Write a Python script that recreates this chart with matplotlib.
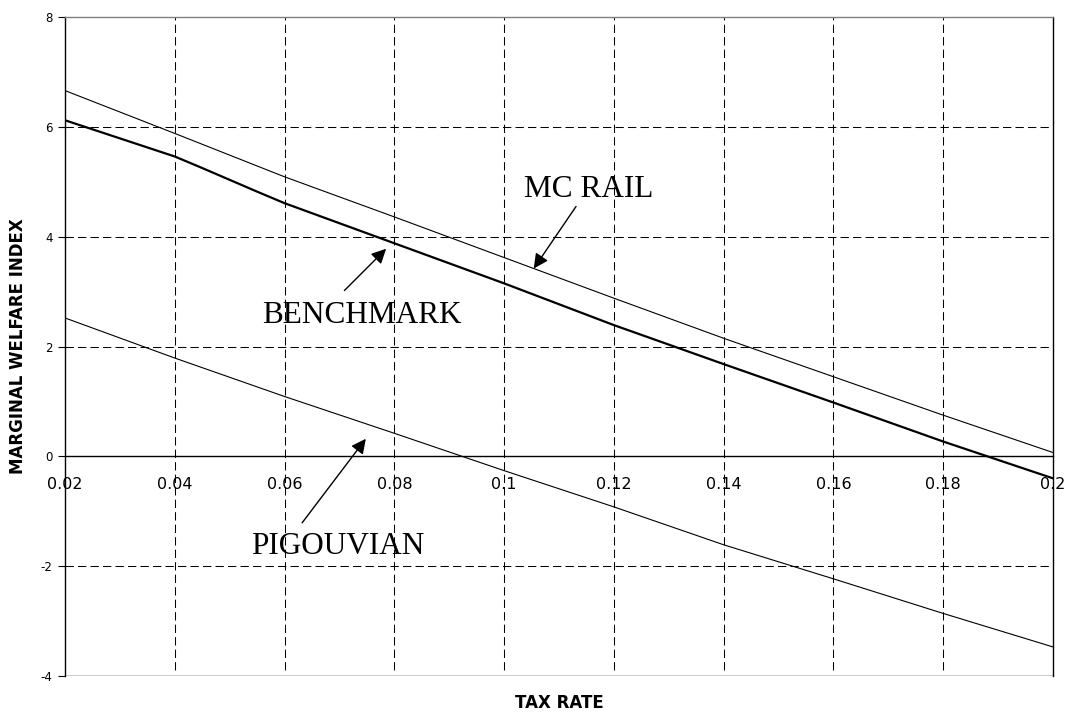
import matplotlib
matplotlib.use("Agg")
import matplotlib.pyplot as plt

# data
tax_rate = [0.02, 0.04, 0.06, 0.08, 0.10, 0.12, 0.14, 0.16, 0.18, 0.20]
mc_rail = [6.66, 5.88, 5.09, 4.36, 3.62, 2.88, 2.15, 1.45, 0.75, 0.07]
pigouvian = [2.52, 1.79, 1.09, 0.42, -0.26, -0.92, -1.61, -2.23, -2.86, -3.47]

bench_rate = [0.02, 0.04, 0.045, 0.055, 0.06, 0.08, 0.10, 0.12, 0.14, 0.16, 0.18, 0.20]
benchmark = [6.12, 5.46, 5.25, 4.82, 4.61, 3.88, 3.15, 2.39, 1.68, 0.98, 0.27, -0.40]

x_ticks = [0.02, 0.04, 0.06, 0.08, 0.1, 0.12, 0.14, 0.16, 0.18, 0.2]
x_labels = ["0.02", "0.04", "0.06", "0.08", "0.1", "0.12", "0.14", "0.16", "0.18", "0.2"]
y_ticks = [-4, -2, 0, 2, 4, 6, 8]

fig = plt.figure(figsize=(10.75, 7.15), dpi=100)
ax = fig.add_axes([0.0605, 0.0545, 0.919, 0.9217])

ax.set_xlim(0.02, 0.2)
ax.set_ylim(-4, 8)

# dashed grid
for gx in x_ticks[1:-1]:
    ax.axvline(gx, ymin=0.009, color="black", lw=0.75, ls=(0, (8, 4)), zorder=1)
for gy in [-2, 2, 4, 6]:
    ax.axhline(gy, color="black", lw=0.75, ls=(0, (8, 4)), zorder=1)

# series
ax.plot(tax_rate, mc_rail, color="black", lw=0.8, zorder=3)
ax.plot(bench_rate, benchmark, color="black", lw=1.6, zorder=3)
ax.plot(tax_rate, pigouvian, color="black", lw=0.8, zorder=3)

# x axis sits at zero, the frame bottom is drawn separately
ax.spines["bottom"].set_position(("data", 0))
ax.axhline(-4, color="black", lw=1.0, zorder=2)
for side in ["left", "right", "bottom"]:
    ax.spines[side].set_color("black")
    ax.spines[side].set_linewidth(1.0)
ax.spines["top"].set_color("#808080")
ax.spines["top"].set_linewidth(1.0)

ax.set_xticks(x_ticks)
ax.set_xticklabels(x_labels, fontfamily="DejaVu Sans", fontsize=11.5)
ax.tick_params(axis="x", length=0, pad=15)
ax.set_yticks(y_ticks)
ax.set_yticklabels([str(v) for v in y_ticks], fontfamily="DejaVu Sans", fontsize=8.5)
ax.tick_params(axis="y", direction="out", length=5, width=0.8, pad=4)

ax.set_xlabel("TAX RATE", fontfamily="DejaVu Sans", fontweight="bold", fontsize=12)
ax.xaxis.set_label_coords(0.5, -0.027)
ax.set_ylabel("MARGINAL WELFARE INDEX", fontfamily="DejaVu Sans", fontweight="bold", fontsize=12)
ax.yaxis.set_label_coords(-0.0385, 0.5)

# labels with arrows
arrow = dict(arrowstyle="-|>", color="black", lw=1.0, mutation_scale=22, shrinkA=0, shrinkB=0)
ax.annotate("", xy=(0.1054, 3.42), xytext=(0.1131, 4.55), arrowprops=arrow)
ax.annotate("", xy=(0.0785, 3.78), xytext=(0.0709, 3.02), arrowprops=arrow)
ax.annotate("", xy=(0.0748, 0.32), xytext=(0.0632, -1.21), arrowprops=arrow)

serif = dict(fontfamily="Liberation Serif", fontsize=22.5, ha="center", va="baseline")
ax.text(0.1155, 4.73, "MC RAIL", **serif)
ax.text(0.0740, 2.42, "BENCHMARK", **serif)
ax.text(0.0696, -1.78, "PIGOUVIAN", **serif)

fig.savefig("out.png", dpi=100, facecolor="white")
